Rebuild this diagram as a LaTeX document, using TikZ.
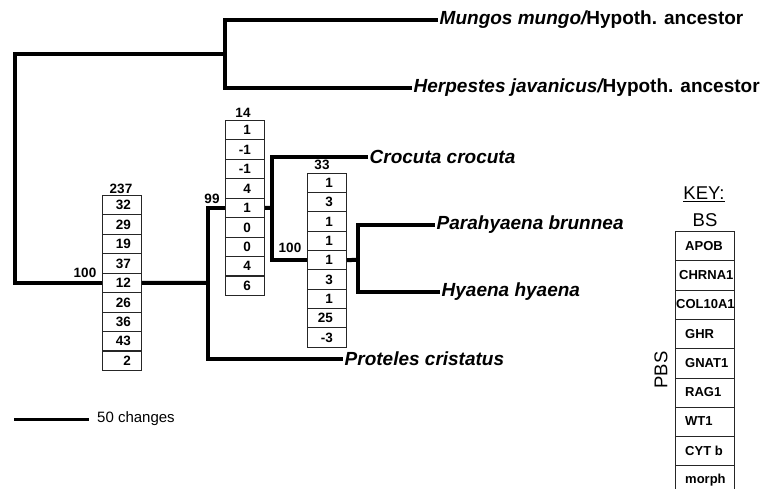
\documentclass[tikz,border=0pt]{standalone}
\usepackage{fontspec}
\setmainfont{Liberation Sans}
\begin{document}
\begin{tikzpicture}[x=1pt,y=-1pt,
  br/.style={line width=4pt,line join=miter},
  sp/.style={anchor=west,inner sep=1.5pt,font=\fontsize{19}{22}\selectfont\bfseries\itshape},
  cell/.style={draw=black!85,line width=1pt,minimum width=39pt,minimum height=19.4pt,inner sep=0pt,anchor=north west},
  kcell/.style={draw=black!85,line width=1pt,minimum width=59pt,minimum height=29.3pt,inner sep=0pt,anchor=north west},
  num/.style={anchor=east,inner sep=0pt,font=\fontsize{13.5}{15}\selectfont\bfseries},
  hdr/.style={inner sep=0pt,font=\fontsize{13.5}{15}\selectfont\bfseries},
  knum/.style={anchor=west,inner sep=0pt,font=\fontsize{13}{15}\selectfont\bfseries},
  ktitle/.style={inner sep=0pt,font=\fontsize{18.5}{21}\selectfont}]
\useasboundingbox (0,0) rectangle (771,489);
% boxes
\foreach \v [count=\i] in {32,29,19,37,12,26,36,43,2} {
  \node[cell] (c1-\i) at (102,{195+(\i-1)*19.44}) {};
  \node[num] (t1-\i) at ([xshift=-11pt]c1-\i.east) {\v};
}
\foreach \v [count=\i] in {1,-1,-1,4,1,0,0,4,6} {
  \node[cell] (c2-\i) at (225,{120+(\i-1)*19.44}) {};
  \node[num] (t2-\i) at ([xshift=-14pt]c2-\i.east) {\v};
}
\foreach \v [count=\i] in {1,3,1,1,1,3,1,25,-3} {
  \node[cell] (c3-\i) at (307,{172.7+(\i-1)*19.33}) {};
  \node[num] (t3-\i) at ([xshift=-14pt]c3-\i.east) {\v};
}
\node[hdr] (h1) at (121,189) {237};
\node[hdr] (h2) at (243,113) {14};
\node[hdr] (h3) at (322,165) {33};
\node[hdr] (s1) at (85,273) {100};
\node[hdr] (s2) at (212,199) {99};
\node[hdr] (s3) at (290,248) {100};
% taxa
\node[sp] (mungo) at (438,20) {Mungos mungo/\upshape Hypoth. ancestor};
\node[sp] (herp) at (412,88) {Herpestes javanicus/\upshape Hypoth. ancestor};
\node[sp] (croc) at (368,157) {Crocuta crocuta};
\node[sp] (para) at (435,225) {Parahyaena brunnea};
\node[sp] (hyae) at (440,292) {Hyaena hyaena};
\node[sp] (prot) at (343,359) {Proteles cristatus};
% tree
\coordinate (root) at (15,54);
\coordinate (n1) at (225,54);
\coordinate (n2) at (208,283);
\coordinate (n3) at (272,207.7);
\coordinate (n4) at (358,259.7);
\draw[br] (c1-5.west) -| (root) -- (n1);
\draw[br] (mungo.west) -| (n1) |- (herp.west);
\draw[br] (c1-5.east) -- (n2);
\draw[br] (c2-5.west) -| (n2) |- (prot.west);
\draw[br] (c2-5.east) -- (n3);
\draw[br] (croc.west) -| (n3) |- (c3-5.west);
\draw[br] (c3-5.east) -- (n4);
\draw[br] (para.west) -| (n4) |- (hyae.west);
% scale
\coordinate (s0) at (14,419);
\node[anchor=west,inner sep=0pt,font=\fontsize{15}{18}\selectfont] (sb) at (97,419) {50 changes};
\draw[line width=3pt] (s0) -- ([xshift=-8pt]sb.west);
% key
\node[ktitle] (key) at (704,194) {\underline{KEY:}};
\node[ktitle] (bs) at (705,220) {BS};
\node[ktitle,rotate=90] (pbs) at (661,370) {PBS};
\foreach \g/\xo [count=\i] in {APOB/685,CHRNA1/679,COL10A1/676,GHR/685,GNAT1/685,RAG1/685,WT1/685,CYT b/685,morph/685} {
  \node[kcell] (k\i) at (675,{231+(\i-1)*29.3}) {};
  \node[knum] (kt\i) at (\xo,{231+(\i-0.5)*29.3}) {\g};
}
\end{tikzpicture}
\end{document}
